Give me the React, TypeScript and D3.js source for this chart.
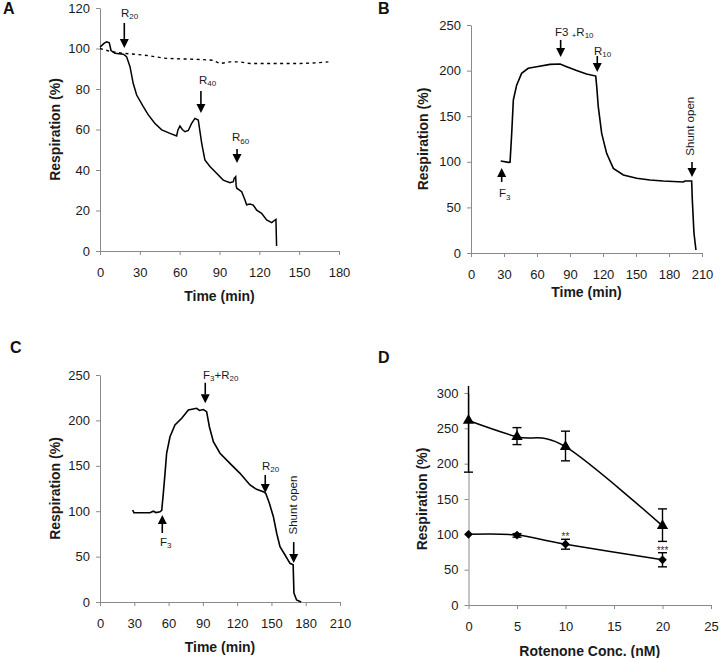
import React, { useEffect, useRef } from 'react';
import * as d3 from 'd3';

// ---- Panel A: rotenone time course (solid) and control (dashed)
const aSolidT = [0, 3, 5, 7, 8.3, 11.3, 17.6, 20, 22.6, 25, 27.6, 32.6, 36.4, 41.4, 46.5, 52.7, 57.7, 58.7, 60.2, 62, 64, 66.5, 69, 71.5, 74, 75.3, 76.6, 79, 82.8, 87.8, 92.8, 97.9, 100.4, 101, 102.2, 102.5, 103, 106.7, 109.2, 110.4, 112.9, 115.4, 118, 121.7, 125.5, 129.3, 131.8, 132.5, 133];
const aSolidV = [100.7, 102.5, 103.3, 102.8, 99, 97.6, 97.2, 96, 91, 82.8, 77, 71.3, 67.2, 63, 59.8, 58.1, 56.8, 59.8, 61.7, 60, 58.9, 59.5, 63, 65.5, 64.7, 58.9, 53.2, 45, 41.7, 38.4, 35, 33.7, 34.2, 35.8, 36.7, 32.4, 31, 29.3, 25.2, 22.8, 23.2, 22.7, 20.2, 18.6, 15.3, 14, 15.3, 15.6, 2.5];
const aDashT = [0, 8, 17.6, 32.6, 50, 75, 85, 90.4, 98, 105, 113, 130, 151, 165, 172];
const aDashV = [100, 98.5, 97.6, 96.8, 95.1, 94.6, 94.2, 92.6, 93.4, 93.4, 92.6, 92.6, 92.6, 93, 93.4];

// ---- Panel B
const bT = [27, 34, 35.5, 37, 38.5, 41.5, 46, 52, 59.7, 71.8, 81, 87, 96, 105, 113.4, 114.3, 115.7, 118.8, 123.3, 129.4, 138.5, 150.6, 162.7, 174.8, 193, 194.5, 200.6, 201.2, 202.7, 204.5];
const bV = [100.9, 99.4, 99.6, 131, 167.8, 184, 197, 202.5, 204.3, 206.8, 207.2, 204.3, 200, 196.3, 194, 182.4, 160.4, 131.2, 109.3, 92.8, 85.5, 81.9, 80, 78.9, 77.9, 78.9, 78.9, 58, 21.9, 3.3];

// ---- Panel C
const cT = [28.6, 29.7, 43.7, 46.6, 49, 52.5, 54, 55.4, 56.9, 58.3, 61.25, 65.6, 71.5, 77.3, 84.6, 87, 90.4, 93.3, 95.7, 99.2, 105, 113.7, 122.5, 131.25, 137, 142.9, 145, 148.2, 151.7, 154.6, 157.5, 161.9, 166.25, 169, 169.7, 172, 176];
const cV = [101.3, 98.3, 98.3, 100, 98.5, 99.4, 101, 119.7, 141.7, 163.8, 182, 195, 202.3, 211.5, 213.3, 211, 212, 209.6, 193, 176.5, 163.8, 152.7, 141.7, 128.9, 124.1, 121.5, 119.7, 108.7, 94, 75.7, 60.9, 51.8, 42.6, 41, 9.9, 2.2, 0];

// ---- Panel D: dose response
const dConc = [0, 5, 10, 20];
const dTriMean = [261, 238, 224, 112];
const dTriLo = [188, 227, 204, 90];
const dTriHi = [332, 251, 246, 136];
const dDiaMean = [100, 99, 86, 64];
const dDiaLo = [100, 96, 79, 54];
const dDiaHi = [100, 101, 93, 74];
const dStars = ['', '', '**', '***'];
const dStarV = [0, 0, 92, 72];

const FONT = '"Liberation Sans", Arial, sans-serif';

type Ann = { t: number; v0: number; v1: number; label?: [string, string][]; lt?: number; lv?: number; rot?: boolean };

// arrows: from v0 (tail) to v1 (tip)
const annA: Ann[] = [
  { t: 18.3, v0: 112.6, v1: 100.2, label: [['R', ''], ['20', 'sub']], lt: 15.8, lv: 115.6 },
  { t: 76, v0: 79, v1: 68.1, label: [['R', ''], ['40', 'sub']], lt: 74.5, lv: 82.5 },
  { t: 103.2, v0: 50.4, v1: 43.5, label: [['R', ''], ['60', 'sub']], lt: 99.4, lv: 54.3 },
];
const annB: Ann[] = [
  { t: 27.9, v0: 77.9, v1: 93.2, label: [['F', ''], ['3', 'sub']], lt: 25.5, lv: 61.4 },
  { t: 81.5, v0: 233.6, v1: 214.9, label: [['F3 ', ''], ['+', 'sub'], ['R', ''], ['10', 'sub']], lt: 76.4, lv: 238 },
  { t: 114.8, v0: 216, v1: 198.5, label: [['R', ''], ['10', 'sub']], lt: 111.8, lv: 217.5 },
  { t: 200.9, v0: 99.8, v1: 83.3, label: [['Shunt open', '']], lt: 202.7, lv: 139, rot: true },
];
const annC: Ann[] = [
  { t: 54.5, v0: 76, v1: 95.8, label: [['F', ''], ['3', 'sub']], lt: 52.5, lv: 61.7 },
  { t: 92.1, v0: 241.5, v1: 219, label: [['F', ''], ['3', 'sub'], ['+R', ''], ['20', 'sub']], lt: 90.1, lv: 245.6 },
  { t: 144.6, v0: 139.9, v1: 120, label: [['R', ''], ['20', 'sub']], lt: 141.7, lv: 145.4 },
  { t: 169.5, v0: 66, v1: 43, label: [['Shunt open', '']], lt: 172.4, lv: 106.8, rot: true },
];

type Axes = {
  x: d3.ScaleLinear<number, number>;
  y: d3.ScaleLinear<number, number>;
};

function drawAxes(
  svg: d3.Selection<SVGSVGElement, unknown, null, undefined>,
  { x, y }: Axes,
  xTicks: number[],
  yTicks: number[],
  xTitle: string,
  xTitleY: number,
  yTitleX: number,
  letter: string,
  letterX: number,
  letterY: number
) {
  const y0 = y.range()[0];
  const x0 = x.range()[0];
  const gx = svg.append('g').attr('transform', `translate(0,${y0})`)
    .call(d3.axisBottom(x).tickValues(xTicks).tickSize(4).tickPadding(13).tickSizeOuter(0));
  const gy = svg.append('g').attr('transform', `translate(${x0},0)`)
    .call(d3.axisLeft(y).tickValues(yTicks).tickSize(4).tickPadding(6).tickSizeOuter(0));
  [gx, gy].forEach(g => {
    g.attr('font-family', FONT).attr('font-size', 13);
    g.select('.domain').attr('stroke', '#8a8a8a').attr('stroke-width', 1);
    g.selectAll('.tick line').attr('stroke', '#8a8a8a');
    g.selectAll('.tick text').attr('fill', '#1a1a1a');
  });

  const xm = (x.range()[0] + x.range()[1]) / 2;
  const ym = (y.range()[0] + y.range()[1]) / 2;
  svg.append('text').attr('x', xm).attr('y', xTitleY).attr('text-anchor', 'middle')
    .attr('font-family', FONT).attr('font-size', 14).attr('font-weight', 'bold').attr('fill', '#1a1a1a')
    .text(xTitle);
  svg.append('text').attr('transform', `translate(${yTitleX},${ym}) rotate(-90)`).attr('text-anchor', 'middle')
    .attr('font-family', FONT).attr('font-size', 14).attr('font-weight', 'bold').attr('fill', '#1a1a1a')
    .text('Respiration (%)');
  svg.append('text').attr('x', letterX).attr('y', letterY)
    .attr('font-family', FONT).attr('font-size', 16).attr('font-weight', 'bold').attr('fill', '#111')
    .text(letter);
}

function drawArrows(
  svg: d3.Selection<SVGSVGElement, unknown, null, undefined>,
  { x, y }: Axes,
  anns: Ann[]
) {
  anns.forEach(a => {
    const px = x(a.t);
    const ya = y(a.v0);
    const yb = y(a.v1);
    const dir = yb > ya ? 1 : -1;
    const head = 9;
    svg.append('line').attr('x1', px).attr('x2', px).attr('y1', ya).attr('y2', yb - dir * head)
      .attr('stroke', '#000').attr('stroke-width', 1.6);
    svg.append('path')
      .attr('d', `M${px - 4.5},${yb - dir * head} L${px + 4.5},${yb - dir * head} L${px},${yb} Z`)
      .attr('fill', '#000');
    if (!a.label) return;
    const t = svg.append('text').attr('font-family', FONT).attr('font-size', 11.5).attr('fill', '#1a1a1a');
    if (a.rot) {
      t.attr('transform', `translate(${x(a.lt!)},${y(a.lv!)}) rotate(-90)`).attr('text-anchor', 'middle')
        .text(a.label[0][0]);
    } else {
      t.attr('x', x(a.lt!)).attr('y', y(a.lv!));
      let sub = false;
      a.label.forEach(([s, kind]) => {
        const isSub = kind === 'sub';
        const dy = isSub && !sub ? 2.5 : !isSub && sub ? -2.5 : 0;
        t.append('tspan').attr('dy', dy).attr('font-size', isSub ? 8 : 11.5).text(s);
        sub = isSub;
      });
    }
  });
}

function App() {
  const ref = useRef<SVGSVGElement>(null);

  useEffect(() => {
    if (!ref.current) return;
    const svg = d3.select(ref.current);
    svg.selectAll('*').remove();

    const line = d3.line<[number, number]>();

    // ---------- A
    const A: Axes = {
      x: d3.scaleLinear().domain([0, 180]).range([100, 339]),
      y: d3.scaleLinear().domain([0, 120]).range([251, 8]),
    };
    drawAxes(svg, A, d3.range(0, 181, 30), d3.range(0, 121, 20), 'Time (min)', 301, 60, 'A', 3, 14);
    line.x(d => A.x(d[0])).y(d => A.y(d[1]));
    svg.append('path').datum(aDashT.map((t, i) => [t, aDashV[i]] as [number, number]))
      .attr('d', line).attr('fill', 'none').attr('stroke', '#000').attr('stroke-width', 1.4)
      .attr('stroke-dasharray', '3,3.5');
    svg.append('path').datum(aSolidT.map((t, i) => [t, aSolidV[i]] as [number, number]))
      .attr('d', line).attr('fill', 'none').attr('stroke', '#000').attr('stroke-width', 1.5);
    drawArrows(svg, A, annA);

    // ---------- B
    const B: Axes = {
      x: d3.scaleLinear().domain([0, 210]).range([471, 702]),
      y: d3.scaleLinear().domain([0, 250]).range([253, 25]),
    };
    drawAxes(svg, B, d3.range(0, 211, 30), d3.range(0, 251, 50), 'Time (min)', 297, 428, 'B', 378, 14);
    line.x(d => B.x(d[0])).y(d => B.y(d[1]));
    svg.append('path').datum(bT.map((t, i) => [t, bV[i]] as [number, number]))
      .attr('d', line).attr('fill', 'none').attr('stroke', '#000').attr('stroke-width', 1.6);
    drawArrows(svg, B, annB);

    // ---------- C
    const C: Axes = {
      x: d3.scaleLinear().domain([0, 210]).range([100, 340]),
      y: d3.scaleLinear().domain([0, 250]).range([602, 375]),
    };
    drawAxes(svg, C, d3.range(0, 211, 30), d3.range(0, 251, 50), 'Time (min)', 652, 60, 'C', 10, 353);
    line.x(d => C.x(d[0])).y(d => C.y(d[1]));
    svg.append('path').datum(cT.map((t, i) => [t, cV[i]] as [number, number]))
      .attr('d', line).attr('fill', 'none').attr('stroke', '#000').attr('stroke-width', 1.6);
    drawArrows(svg, C, annC);

    // ---------- D
    const D: Axes = {
      x: d3.scaleLinear().domain([0, 25]).range([468.5, 711]),
      y: d3.scaleLinear().domain([0, 300]).range([605, 393]),
    };
    drawAxes(svg, D, d3.range(0, 26, 5), d3.range(0, 301, 50), 'Rotenone Conc. (nM)', 656, 427, 'D', 378, 363);

    svg.append('defs').append('clipPath').attr('id', 'clipD')
      .append('rect').attr('x', 440).attr('y', D.y(310)).attr('width', 280).attr('height', 300);
    const gD = svg.append('g').attr('clip-path', 'url(#clipD)');
    const smooth = d3.line<number>()
      .x((_, i) => D.x(dConc[i]))
      .curve(d3.curveCardinal);

    const series = [
      { mean: dTriMean, lo: dTriLo, hi: dTriHi, sym: d3.symbolTriangle, size: 55, rot: 0 },
      { mean: dDiaMean, lo: dDiaLo, hi: dDiaHi, sym: d3.symbolSquare, size: 38, rot: 45 },
    ];
    series.forEach(s => {
      gD.append('path').datum(s.mean).attr('d', smooth.y(d => D.y(d)))
        .attr('fill', 'none').attr('stroke', '#000').attr('stroke-width', 1.5);
      dConc.forEach((c, i) => {
        if (s.hi[i] === s.lo[i]) return;
        const px = D.x(c);
        gD.append('line').attr('x1', px).attr('x2', px).attr('y1', D.y(s.lo[i])).attr('y2', D.y(s.hi[i]))
          .attr('stroke', '#000').attr('stroke-width', 1.4);
        [s.lo[i], s.hi[i]].forEach(v => {
          gD.append('line').attr('x1', px - 4.5).attr('x2', px + 4.5).attr('y1', D.y(v)).attr('y2', D.y(v))
            .attr('stroke', '#000').attr('stroke-width', 1.4);
        });
      });
      dConc.forEach((c, i) => {
        gD.append('path').attr('d', d3.symbol(s.sym, s.size)()!)
          .attr('transform', `translate(${D.x(c)},${D.y(s.mean[i])}) rotate(${s.rot})`)
          .attr('fill', '#000');
      });
    });
    dConc.forEach((c, i) => {
      if (!dStars[i]) return;
      svg.append('text').attr('x', D.x(c)).attr('y', D.y(dStarV[i])).attr('text-anchor', 'middle')
        .attr('font-family', FONT).attr('font-size', 10).attr('fill', '#333').text(dStars[i]);
    });
  }, []);

  return <svg ref={ref} width={720} height={658} style={{ position: 'absolute', left: 0, top: 0, background: '#fff' }} />;
}

export default App;
